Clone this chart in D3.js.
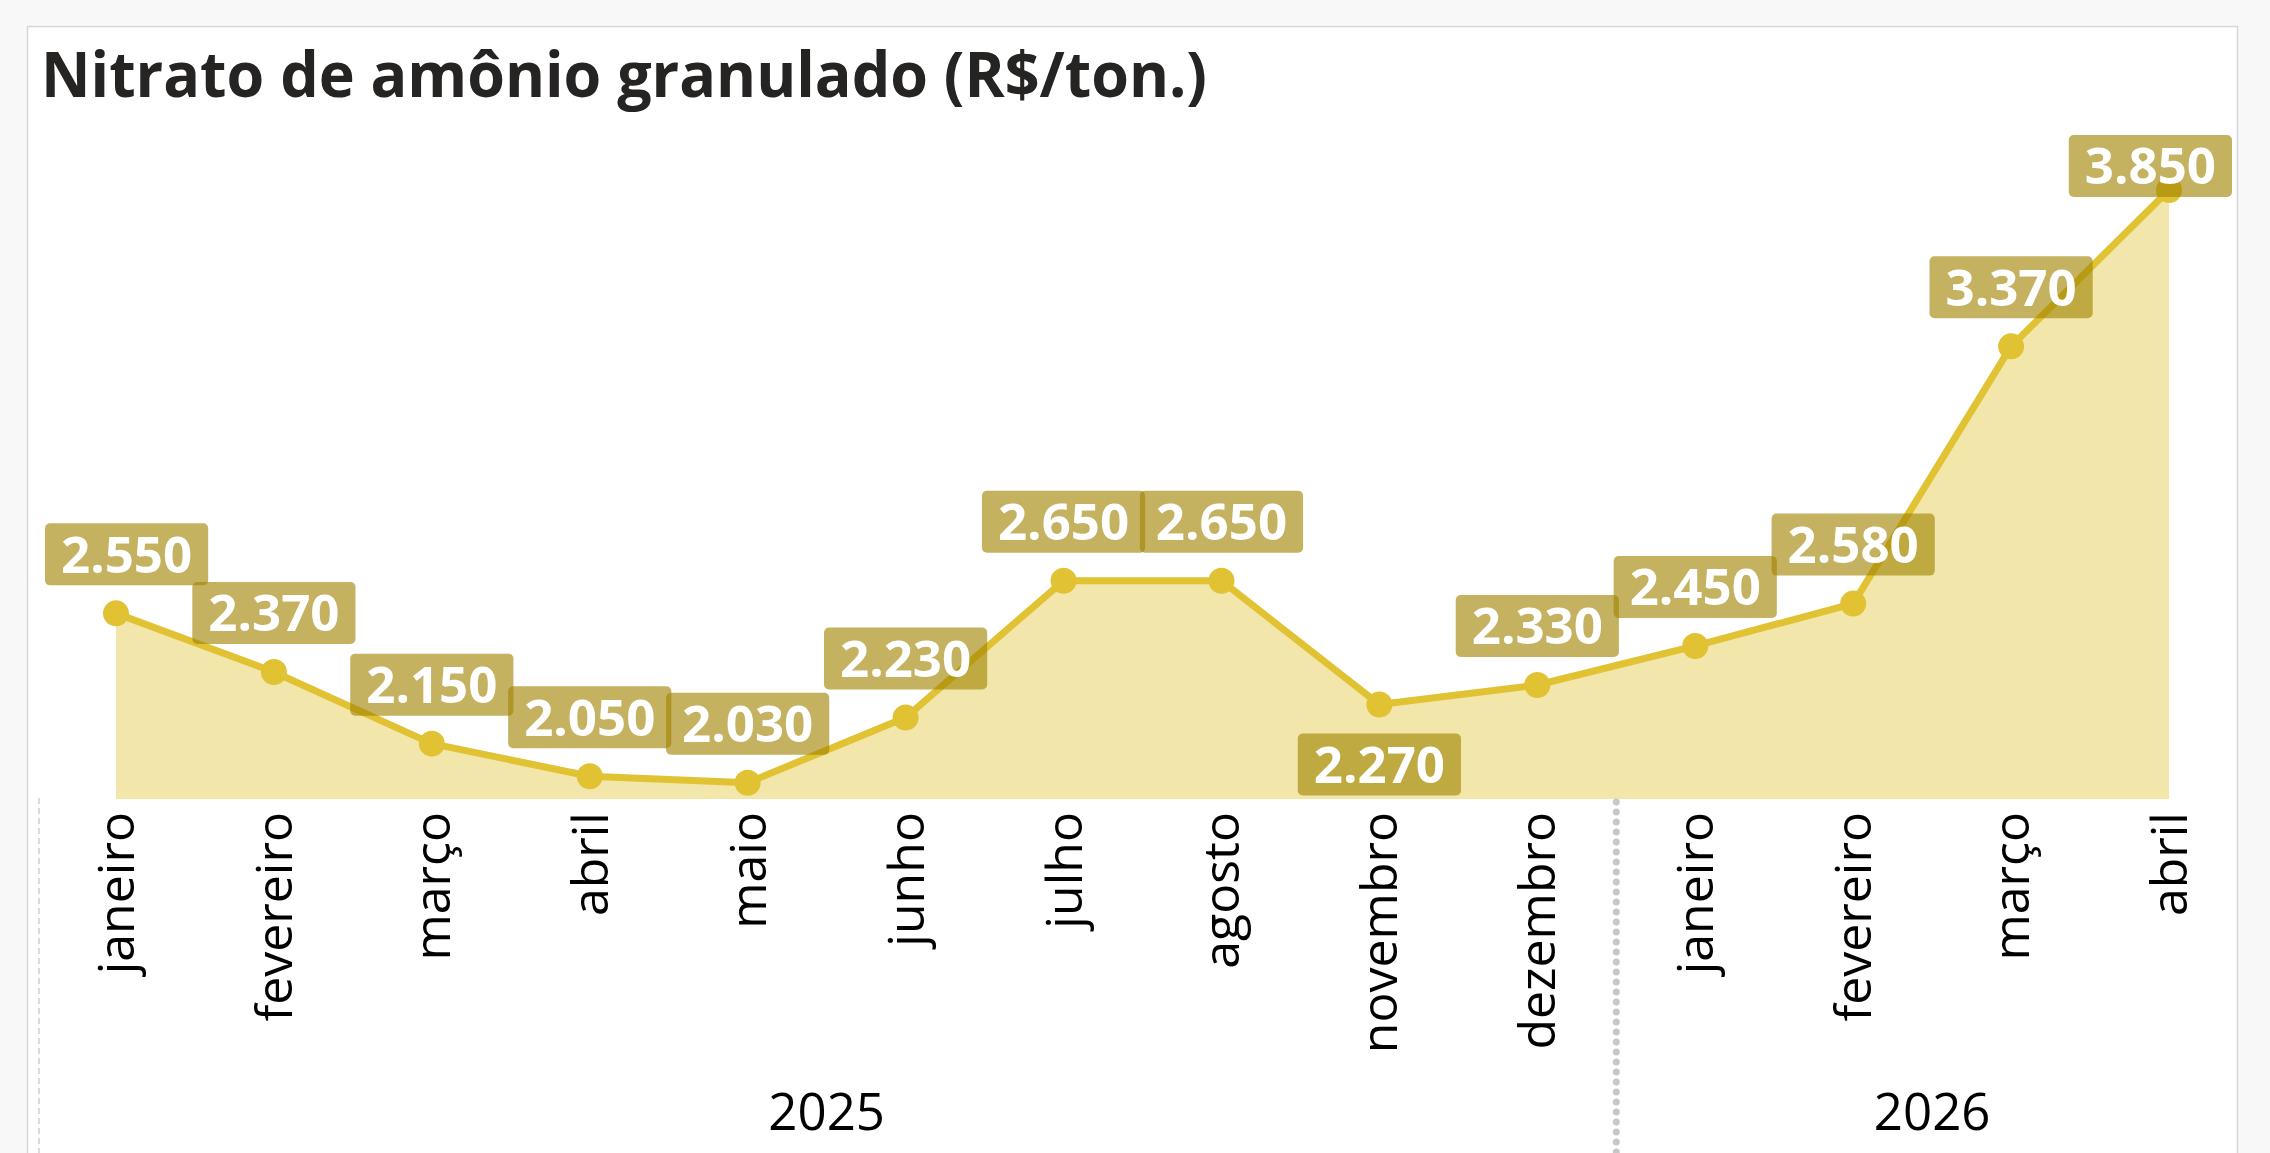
<!DOCTYPE html>
<html>
<head>
<meta charset="utf-8">
<script src="https://cdn.jsdelivr.net/npm/d3@7"></script>
<style>
  html, body { margin: 0; padding: 0; background: #f8f8f8; }
  svg { display: block; }
</style>
</head>
<body>
<svg id="chart"></svg>
<script>
// chart data
var title = "Nitrato de amônio granulado (R$/ton.)";
var months = ["janeiro", "fevereiro", "março", "abril", "maio", "junho", "julho",
  "agosto", "novembro", "dezembro", "janeiro", "fevereiro", "março", "abril"];
var yearOf = ["2025", "2025", "2025", "2025", "2025", "2025", "2025",
  "2025", "2025", "2025", "2026", "2026", "2026", "2026"];
var values = [2550, 2370, 2150, 2050, 2030, 2230, 2650, 2650, 2270, 2330, 2450, 2580, 3370, 3850];
var years = ["2025", "2026"];

var width = 2270;
var height = 1153;
var lineColor = "#e0c233";
var areaColor = "#f2e6aa";

var ptBR = d3.formatLocale({ decimal: ",", thousands: ".", grouping: [3], currency: ["R$", ""] });
var fmt = ptBR.format(",d");

var data = values.map(function (v, i) {
  return { key: yearOf[i] + "-" + i, month: months[i], year: yearOf[i], value: v };
});

var svg = d3.select("#chart").attr("width", width).attr("height", height);

// panel
svg.append("rect")
  .attr("x", 27.5).attr("y", 26.5)
  .attr("width", 2210).attr("height", 1200)
  .attr("fill", "#fff")
  .attr("stroke", "#d6d6d6")
  .attr("stroke-width", 1.5);

// title
svg.append("text")
  .attr("x", 41)
  .attr("y", 97)
  .attr("textLength", 1166)
  .attr("lengthAdjust", "spacingAndGlyphs")
  .style("font-family", "'Open Sans', 'Noto Sans', sans-serif")
  .style("font-weight", "bold")
  .style("font-size", "63px")
  .style("fill", "#252423")
  .text(title);

// scales
var xs = d3.scaleBand()
  .domain(data.map(function (d) { return d.key; }))
  .range([37, 2248])
  .padding(0);
var px = function (d) { return xs(d.key) + xs.bandwidth() / 2; };

var ys = d3.scaleLinear()
  .domain([1980, 3850])
  .range([799, 190]);

// area + line
var area = d3.area()
  .x(px)
  .y0(ys.range()[0])
  .y1(function (d) { return ys(d.value); });
var line = d3.line()
  .x(px)
  .y(function (d) { return ys(d.value); });

svg.append("path")
  .datum(data)
  .attr("d", area)
  .attr("fill", areaColor);

svg.append("path")
  .datum(data)
  .attr("d", line)
  .attr("fill", "none")
  .attr("stroke", lineColor)
  .attr("stroke-width", 7)
  .attr("stroke-linejoin", "round");

svg.selectAll("circle.pt")
  .data(data)
  .enter()
  .append("circle")
  .attr("class", "pt")
  .attr("cx", px)
  .attr("cy", function (d) { return ys(d.value); })
  .attr("r", 13)
  .attr("fill", lineColor);

// x axis: month labels
var xAxis = svg.append("g")
  .attr("transform", "translate(0," + 812 + ")")
  .call(d3.axisBottom(xs).tickSize(0).tickFormat(function (k) {
    return data.find(function (d) { return d.key == k; }).month;
  }));
xAxis.select(".domain").remove();
xAxis.selectAll("text")
  .attr("y", 0)
  .attr("x", 0)
  .attr("dy", ".36em")
  .attr("transform", "rotate(-90)")
  .style("text-anchor", "end")
  .style("font-family", "'Open Sans', 'Noto Sans', sans-serif")
  .style("font-size", "50px")
  .style("fill", "#000");

// year groups
var groups = years.map(function (y) {
  var keys = data.filter(function (d) { return d.year == y; }).map(function (d) { return d.key; });
  return { year: y, x0: xs(keys[0]), x1: xs(keys[keys.length - 1]) + xs.bandwidth() };
});

svg.append("line")
  .attr("x1", xs.range()[0] + 2).attr("x2", xs.range()[0] + 2)
  .attr("y1", 798).attr("y2", height)
  .attr("stroke", "#cfcfcf")
  .attr("stroke-width", 1.5)
  .attr("stroke-dasharray", "6 4");

svg.selectAll("line.sep")
  .data(groups.slice(1))
  .enter()
  .append("line")
  .attr("class", "sep")
  .attr("x1", function (g) { return g.x0; })
  .attr("x2", function (g) { return g.x0; })
  .attr("y1", 802).attr("y2", height)
  .attr("stroke", "#c8c8c8")
  .attr("stroke-width", 7)
  .attr("stroke-linecap", "round")
  .attr("stroke-dasharray", "0 10");

svg.selectAll("text.year")
  .data(groups)
  .enter()
  .append("text")
  .attr("class", "year")
  .attr("x", function (g) { return (g.x0 + g.x1) / 2; })
  .attr("y", 1130)
  .style("text-anchor", "middle")
  .style("font-family", "'Open Sans', 'Noto Sans', sans-serif")
  .style("font-size", "51px")
  .style("fill", "#000")
  .text(function (g) { return g.year; });

// data labels
var below = new Set([8]); // novembro sits under its point
var boxH = 62;
var lbl = svg.append("g");
data.forEach(function (d, i) {
  var g = lbl.append("g");
  var t = g.append("text")
    .style("font-family", "'Open Sans', 'Noto Sans', sans-serif")
    .style("font-weight", "bold")
    .style("font-size", "51px")
    .style("fill", "#fff")
    .style("text-anchor", "middle")
    .text(fmt(d.value));
  var w = t.node().getComputedTextLength() + 32;
  var cx = px(d), cy = ys(d.value);
  var left = Math.max(45, Math.min(cx - w / 2, 2232 - w));
  var top = below.has(i) ? cy + 29 : cy - 28 - boxH;
  top = Math.max(top, 135);
  g.insert("rect", "text")
    .attr("x", left).attr("y", top)
    .attr("width", w).attr("height", boxH)
    .attr("rx", 5)
    .attr("fill", "rgb(160,130,0)")
    .attr("fill-opacity", 0.62);
  t.attr("x", left + w / 2).attr("y", top + boxH / 2).attr("dy", "0.36em");
});
</script>
</body>
</html>
